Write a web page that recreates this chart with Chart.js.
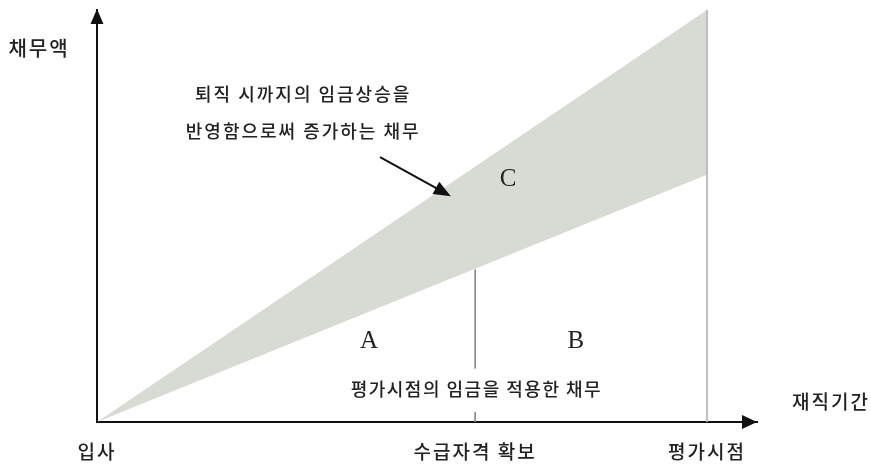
<!DOCTYPE html>
<html>
<head>
<meta charset="utf-8">
<script src="https://cdn.jsdelivr.net/npm/chart.js@4"></script>
<style>
html,body{margin:0;padding:0;background:#fff;}
#wrap{position:relative;width:871px;height:468px;}
</style>
</head>
<body>
<div id="wrap"><canvas id="c" width="871" height="468"></canvas></div>
<script>
// ---- data ----
const tickValues = [0, 62, 100];
const tickLabels = ['입사', '수급자격 확보', '평가시점'];
const upperValues = [0, 100];      // 퇴직 시까지의 임금상승을 반영한 채무 (at 입사, 평가시점)
const lowerValues = [0, 60];       // 평가시점의 임금을 적용한 채무 (at 입사, 평가시점)
const vestingLower = 37;           // lower line value at 수급자격 확보
const yTitle = '채무액';
const xTitle = '재직기간';
const regionLabels = ['A', 'B', 'C'];
const noteLines = ['퇴직 시까지의 임금상승을', '반영함으로써 증가하는 채무'];
const baseNote = '평가시점의 임금을 적용한 채무';

const KFONT = '"Noto Sans CJK KR", "Noto Sans", sans-serif';
const SFONT = '"Liberation Serif", "DejaVu Serif", serif';

const spacing = {
  id: 'spacing',
  beforeUpdate(chart) { chart.ctx.letterSpacing = '2px'; },
  beforeDraw(chart) { chart.ctx.letterSpacing = '2px'; }
};

const annot = {
  id: 'annot',
  afterDraw(chart) {
    const ctx = chart.ctx;
    const xs = chart.scales.x, ys = chart.scales.y;
    const ca = chart.chartArea;
    const px = v => xs.getPixelForValue(v);
    const py = v => ys.getPixelForValue(v);
    ctx.save();
    ctx.fillStyle = '#111';
    // axis arrowheads
    ctx.beginPath();
    ctx.moveTo(ca.right, ca.bottom);
    ctx.lineTo(ca.right - 15, ca.bottom - 7);
    ctx.lineTo(ca.right - 15, ca.bottom + 7);
    ctx.closePath();
    ctx.fill();
    ctx.beginPath();
    ctx.moveTo(ca.left, ca.top - 1);
    ctx.lineTo(ca.left - 6.5, ca.top + 14);
    ctx.lineTo(ca.left + 6.5, ca.top + 14);
    ctx.closePath();
    ctx.fill();

    // pointer arrow
    const x0 = px(46.4), y0 = py(64.3), x1 = px(58.0), y1 = py(54.8);
    const ang = Math.atan2(y1 - y0, x1 - x0);
    ctx.strokeStyle = '#111';
    ctx.lineWidth = 2;
    ctx.beginPath();
    ctx.moveTo(x0, y0);
    ctx.lineTo(x1 - 12 * Math.cos(ang), y1 - 12 * Math.sin(ang));
    ctx.stroke();
    ctx.beginPath();
    ctx.moveTo(x1, y1);
    ctx.lineTo(x1 - 17 * Math.cos(ang) + 7 * Math.sin(ang), y1 - 17 * Math.sin(ang) - 7 * Math.cos(ang));
    ctx.lineTo(x1 - 17 * Math.cos(ang) - 7 * Math.sin(ang), y1 - 17 * Math.sin(ang) + 7 * Math.cos(ang));
    ctx.closePath();
    ctx.fill();

    // texts
    ctx.fillStyle = '#222';
    ctx.textAlign = 'center';
    ctx.textBaseline = 'middle';
    ctx.letterSpacing = '2px';
    ctx.font = '500 20px ' + KFONT;
    ctx.fillText(yTitle, ca.left - 58, ca.top + 38);
    ctx.font = '500 19px ' + KFONT;
    ctx.fillText(xTitle, ca.right + 74, ca.bottom - 20);

    ctx.font = '500 18px ' + KFONT;
    ctx.fillText(noteLines[0], px(33.8), py(79.6));
    ctx.fillText(noteLines[1], px(33.8), py(70.6));
    ctx.letterSpacing = '1.5px';
    ctx.fillText(baseNote, px(62.2), py(8.0));

    ctx.letterSpacing = '0px';
    ctx.font = '25px ' + SFONT;
    ctx.fillText(regionLabels[0], px(44.6), py(19.6));
    ctx.fillText(regionLabels[1], px(78.5), py(19.6));
    ctx.fillText(regionLabels[2], px(67.4), py(58.8));
    ctx.restore();
  }
};

new Chart(document.getElementById('c'), {
  type: 'line',
  data: {
    datasets: [
      {
        label: 'upper',
        data: [{x: tickValues[0], y: upperValues[0]}, {x: tickValues[2], y: upperValues[1]}],
        borderWidth: 0,
        borderColor: 'rgba(0,0,0,0)',
        backgroundColor: '#d8dbd4',
        fill: '+1',
        pointRadius: 0,
        order: 3
      },
      {
        label: 'lower',
        data: [{x: tickValues[0], y: lowerValues[0]}, {x: tickValues[2], y: lowerValues[1]}],
        borderWidth: 0,
        borderColor: 'rgba(0,0,0,0)',
        fill: false,
        pointRadius: 0,
        order: 3
      },
      {
        label: 'vesting',
        data: [{x: tickValues[1], y: vestingLower}, {x: tickValues[1], y: 13}, {x: tickValues[1], y: null}, {x: tickValues[1], y: 2.4}, {x: tickValues[1], y: 0}],
        borderWidth: 1,
        borderColor: '#8a8a8a',
        fill: false,
        pointRadius: 0,
        spanGaps: false,
        order: 1
      },
      {
        label: 'valuation',
        data: [{x: tickValues[2], y: upperValues[1]}, {x: tickValues[2], y: 0}],
        borderWidth: 1,
        borderColor: '#b8b8b8',
        fill: false,
        pointRadius: 0,
        order: 2
      }
    ]
  },
  options: {
    responsive: false,
    animation: false,
    events: [],
    layout: { padding: { left: 97, right: 114, top: 10, bottom: 0 } },
    plugins: { legend: { display: false }, tooltip: { enabled: false } },
    scales: {
      x: {
        type: 'linear',
        min: 0,
        max: 108.2,
        grid: { display: false, drawTicks: false },
        border: { display: true, color: '#111', width: 2 },
        afterBuildTicks: (s) => { s.ticks = tickValues.map(v => ({ value: v })); },
        afterFit: (s) => { s.height = 46; },
        ticks: {
          padding: 18,
          maxRotation: 0,
          autoSkip: false,
          color: '#222',
          font: { family: KFONT, size: 19, weight: '500' },
          callback: (v) => { const i = tickValues.indexOf(v); return i >= 0 ? tickLabels[i] : ''; }
        }
      },
      y: {
        type: 'linear',
        min: 0,
        max: 100,
        grid: { display: false, drawTicks: false },
        border: { display: true, color: '#111', width: 2 },
        ticks: { display: false }
      }
    }
  },
  plugins: [spacing, annot]
});
</script>
</body>
</html>
